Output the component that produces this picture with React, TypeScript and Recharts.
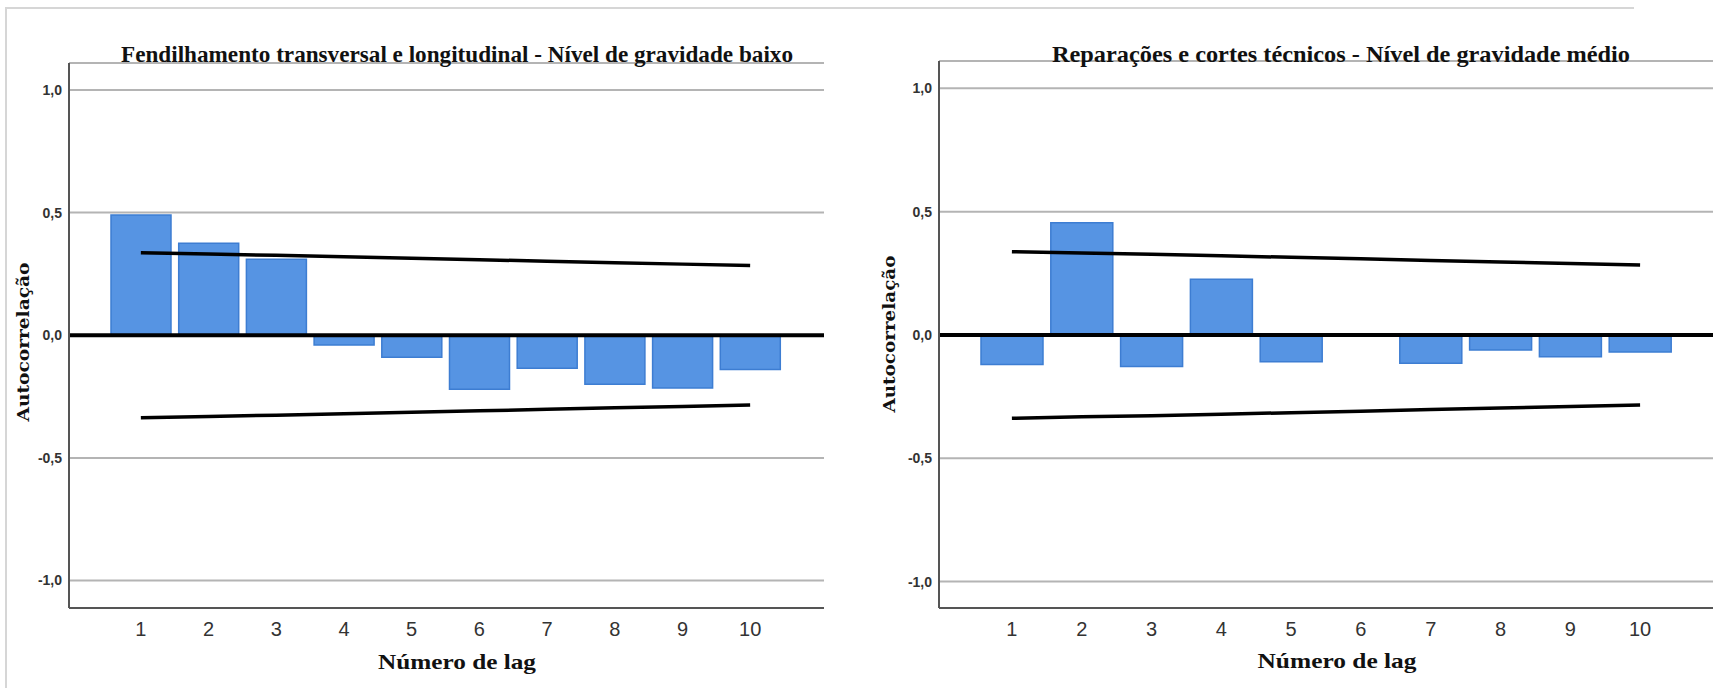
import React from "react";
import {
  ComposedChart,
  Bar,
  Line,
  XAxis,
  YAxis,
  CartesianGrid,
  ReferenceLine,
} from "recharts";

// lags 1..10
const lags = ["1", "2", "3", "4", "5", "6", "7", "8", "9", "10"];

// Fendilhamento transversal e longitudinal - baixo
const acfFendilhamento = [0.49, 0.375, 0.31, -0.04, -0.09, -0.22, -0.135, -0.2, -0.215, -0.14];
const limiteFendilhamento = [0.336, 0.331, 0.326, 0.32, 0.314, 0.308, 0.302, 0.296, 0.29, 0.284];

// Reparações e cortes técnicos - médio
const acfReparacoes = [-0.12, 0.455, -0.128, 0.226, -0.108, 0, -0.115, -0.061, -0.088, -0.069];
const limiteReparacoes = [0.338, 0.332, 0.327, 0.321, 0.315, 0.309, 0.302, 0.296, 0.29, 0.284];

const yTicks = [-1, -0.5, 0, 0.5, 1];

const toRows = (acf: number[], lim: number[]) =>
  lags.map((lag, i) => ({ lag, acf: acf[i], upper: lim[i], lower: -lim[i] }));

const fmt = (v: number) => v.toFixed(1).replace(".", ",");

interface PanelProps {
  left: number;
  rows: any[];
  yWidth: number;
  marginTop: number;
  marginRight: number;
  domain: [number, number];
  padding: { left: number; right: number };
  barSize: number;
}

const AcfPanel: React.FC<PanelProps> = ({
  left,
  rows,
  yWidth,
  marginTop,
  marginRight,
  domain,
  padding,
  barSize,
}) => (
  <div style={{ position: "absolute", left, top: 0 }}>
    <ComposedChart
      width={862}
      height={688}
      data={rows}
      margin={{ top: marginTop, right: marginRight, bottom: 0, left: 0 }}
    >
      <CartesianGrid vertical={false} stroke="#b4b4b4" strokeWidth={2} />
      <XAxis
        dataKey="lag"
        height={80}
        padding={padding}
        tickLine={false}
        tickSize={0}
        tickMargin={14}
        axisLine={{ stroke: "#555", strokeWidth: 2 }}
        tick={{ fontFamily: "Liberation Sans", fontSize: 20, fill: "#333" }}
        interval={0}
      />
      <YAxis
        type="number"
        width={yWidth}
        domain={domain}
        ticks={yTicks}
        tickFormatter={fmt}
        tickLine={false}
        tickSize={0}
        tickMargin={7}
        axisLine={{ stroke: "#555", strokeWidth: 2 }}
        tick={{ fontFamily: "Liberation Sans", fontSize: 14, fontWeight: "bold", fill: "#333" }}
        allowDataOverflow
      />
      <Bar
        dataKey="acf"
        barSize={barSize}
        fill="#5694e3"
        stroke="#3d7dd2"
        strokeWidth={1.5}
        isAnimationActive={false}
      />
      <ReferenceLine y={0} stroke="#000" strokeWidth={4} />
      <Line
        dataKey="upper"
        stroke="#000"
        strokeWidth={3.5}
        dot={false}
        isAnimationActive={false}
      />
      <Line
        dataKey="lower"
        stroke="#000"
        strokeWidth={3.5}
        dot={false}
        isAnimationActive={false}
      />
    </ComposedChart>
  </div>
);

const titleStyle = {
  fontFamily: "Liberation Serif",
  fontWeight: "bold" as const,
  fontSize: 24,
  fill: "#111",
};
const yLabelStyle = {
  fontFamily: "DejaVu Serif",
  fontWeight: "bold" as const,
  fontSize: 17,
  fill: "#111",
};

export default function App() {
  return (
    <div
      style={{
        position: "absolute",
        left: 0,
        top: 0,
        width: 1724,
        height: 688,
        background: "#fff",
        overflow: "hidden",
      }}
    >
      <AcfPanel
        left={0}
        rows={toRows(acfFendilhamento, limiteFendilhamento)}
        yWidth={69}
        marginTop={63}
        marginRight={38}
        domain={[-1.112, 1.11]}
        padding={{ left: 38, right: 40 }}
        barSize={60}
      />
      <AcfPanel
        left={862}
        rows={toRows(acfReparacoes, limiteReparacoes)}
        yWidth={77}
        marginTop={61}
        marginRight={11}
        domain={[-1.107, 1.111]}
        padding={{ left: 38, right: 38 }}
        barSize={62}
      />
      <svg
        width={1724}
        height={688}
        style={{ position: "absolute", left: 0, top: 0, pointerEvents: "none" }}
      >
        <line x1={5} y1={8} x2={1634} y2={8} stroke="#d6d6d6" strokeWidth={2} />
        <line x1={6} y1={8} x2={6} y2={688} stroke="#d6d6d6" strokeWidth={2} />

        <text
          x={457}
          y={62}
          textAnchor="middle"
          textLength={672}
          lengthAdjust="spacingAndGlyphs"
          style={titleStyle}
        >
          Fendilhamento transversal e longitudinal - Nível de gravidade baixo
        </text>
        <text
          x={1341}
          y={62}
          textAnchor="middle"
          textLength={578}
          lengthAdjust="spacingAndGlyphs"
          style={titleStyle}
        >
          Reparações e cortes técnicos - Nível de gravidade médio
        </text>

        <text
          x={457}
          y={669}
          textAnchor="middle"
          textLength={158}
          lengthAdjust="spacingAndGlyphs"
          style={{ ...titleStyle, fontSize: 22 }}
        >
          Número de lag
        </text>
        <text
          x={1337}
          y={668}
          textAnchor="middle"
          textLength={159}
          lengthAdjust="spacingAndGlyphs"
          style={{ ...titleStyle, fontSize: 22 }}
        >
          Número de lag
        </text>

        <text
          transform="translate(29,342) rotate(-90)"
          textAnchor="middle"
          textLength={159}
          lengthAdjust="spacingAndGlyphs"
          style={yLabelStyle}
        >
          Autocorrelação
        </text>
        <text
          transform="translate(895,334) rotate(-90)"
          textAnchor="middle"
          textLength={157}
          lengthAdjust="spacingAndGlyphs"
          style={yLabelStyle}
        >
          Autocorrelação
        </text>
      </svg>
    </div>
  );
}
